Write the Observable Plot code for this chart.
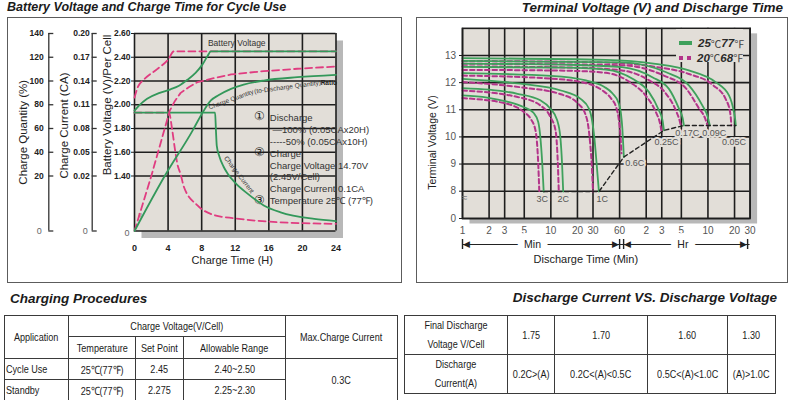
<!DOCTYPE html>
<html>
<head>
<meta charset="utf-8">
<script src="https://cdn.jsdelivr.net/npm/d3@7"></script>
<script src="https://cdn.jsdelivr.net/npm/@observablehq/plot@0.6"></script>
<style>
  html, body { margin: 0; padding: 0; background: #fff; }
  #sheet { position: relative; width: 788px; height: 400px; overflow: hidden; background: #fff;
           font-family: "Liberation Sans", Arial, sans-serif; color: #222; }
  .heading { position: absolute; margin: 0; font-weight: bold; font-style: italic; white-space: nowrap;
             color: #1b1b1b; line-height: 1; }
  .panel { position: absolute; box-sizing: border-box; border: 1.5px solid #5c5c5c; }
  .legend { position: absolute; left: 676px; top: 29px; width: 67px; height: 33px; background: #e2ded8; z-index: 5; }
  .legend .row { position: absolute; left: 0; height: 14px; display: flex; align-items: center;
                 white-space: nowrap; font-size: 11.5px; color: #2a2a2a; }
  .legend .num { font-weight: bold; font-style: italic; }
  .legend .unit { font-family: "Noto Sans CJK SC", serif; font-size: 10.5px; color: #444; }
  table.spec { position: absolute; border-collapse: collapse; table-layout: fixed;
               font-family: "Liberation Sans", Arial, sans-serif; font-size: 11.5px; color: #1a1a1a; }
  table.spec td { border: 1px solid #3a3a3a; text-align: center; padding: 0; white-space: nowrap; overflow: visible; }
  table.spec .n { display: inline-block; transform: scaleX(0.79); transform-origin: 50% 50%; }
  table.spec td.lead { text-align: left; padding-left: 1px; }
  table.spec td.lead .n { transform-origin: 0 50%; }
  table.spec .two { line-height: 19px; }
</style>
</head>
<body>
<div id="sheet">
  <div class="heading" style="left:7px; top:1px; font-size:12.5px;">Battery Voltage and Charge Time for Cycle Use</div>
  <div class="heading" style="right:5px; top:1px; font-size:13.5px;">Terminal Voltage (V) and Discharge Time</div>
  <div class="panel" style="left:7px; top:17px; width:395px; height:266px;"></div>
  <div class="panel" style="left:416px; top:17px; width:372px; height:266px;"></div>
  <div class="heading" style="left:10px; top:292px; font-size:13.5px;">Charging Procedures</div>
  <div class="heading" style="right:11px; top:291px; font-size:13.5px;">Discharge Current VS. Discharge Voltage</div>
</div>
<script>
// ---------------- Charging characteristics ----------------
const hourTicks = [0, 4, 8, 12, 16, 20, 24];
const voltTicks = [0, 1.4, 1.6, 1.8, 2.0, 2.2, 2.4, 2.6];
const voltTickLabels = ["0", "1.40", "1.60", "1.80", "2.00", "2.20", "2.40", "2.60"];
const currentTicks = [0, 0.02, 0.05, 0.08, 0.11, 0.14, 0.17, 0.2];
const currentTickLabels = ["0", "0.02", "0.05", "0.08", "0.11", "0.14", "0.17", "0.20"];
const quantityTicks = [0, 20, 40, 60, 80, 100, 120, 140];
const quantityTickLabels = ["0", "20", "40", "60", "80", "100", "120", "140"];

// battery voltage per cell while charging, [hours, V]
const voltageAfterFull = [[0, 1.95], [0.5, 1.99], [1.5, 2.05], [3, 2.1], [4.3, 2.13], [5.3, 2.16], [6.3, 2.21],
  [7.3, 2.27], [8.1, 2.34], [8.7, 2.41], [9.1, 2.45], [24, 2.45]];
const voltageAfterHalf = [[0, 2.06], [0.4, 2.15], [1.1, 2.21], [2.7, 2.3], [4.0, 2.38], [4.7, 2.45], [24, 2.45]];
// charge current, [hours, CA]
const currentAfterFull = [[0, 0.1], [9.6, 0.1], [9.7, 0.0775], [9.8, 0.058], [10.1, 0.045], [10.6, 0.032],
  [11.1, 0.0228], [12, 0.0175], [13.5, 0.0135], [15.4, 0.0093], [17.4, 0.0068], [21.4, 0.0044], [24, 0.0036]];
const currentAfterHalf = [[0, 0.1], [4.1, 0.1], [4.5, 0.0775], [4.8, 0.055], [5.1, 0.0354], [5.5, 0.022],
  [5.9, 0.0159], [7.5, 0.0093], [9.5, 0.0058], [12, 0.0046], [16, 0.0034], [24, 0.0026]];
// charge quantity relative to the discharged quantity, [hours, %]
const quantityAfterFull = [[0, 0], [3.6, 20], [6.9, 58], [8, 72], [9.1, 83.6], [10, 88], [11.5, 93.4], [13, 97],
  [15.4, 100.4], [19.4, 103.2], [24, 105.2]];
const quantityAfterHalf = [[0, 0], [2.0, 20], [4.2, 75], [4.8, 83], [5.5, 90], [6.5, 95], [7.5, 99], [9.5, 102.5],
  [11.5, 105.5], [15.4, 108.3], [19.4, 110.3], [24, 112.2]];

const noteLines = ["Discharge", " \u2014100% (0.05CAx20H)", "-----50% (0.05CAx10H)", "Charge",
  "Charge Voltage 14.70V", "(2.45V/Cell)", "Charge Current 0.1CA", "Temperature 25\u2103 (77\u2109)"];
const noteMarkers = ["\u2460", "", "", "\u2461", "", "", "", "\u2462"];

// ---------------- Discharge characteristics ----------------
const timeTicks = [1, 2, 3, 5, 10, 20, 30, 60, 120, 180, 300, 600, 1200, 1800];
const timeTickLabels = ["1", "2", "3", "5", "10", "20", "30", "60", "2", "3", "5", "10", "20", "30"];
const terminalTicks = [0, 8, 9, 10, 11, 12, 13];
const terminalTickLabels = ["0", "8", "9", "10", "11", "12", "13"];
const rates = ["3C", "2C", "1C", "0.6C", "0.25C", "0.17C", "0.09C", "0.05C"];
const timeSpans = [{unit: "Min", from: 1, to: 60}, {unit: "Hr", from: 60, to: 1800}];
const temperatures = [{c: "25", f: "77"}, {c: "20", f: "68"}];

// terminal voltage at 25 °C, [minutes, V]
const d25_3C = [[1, 11.53], [1.9, 11.45], [3.2, 11.3], [4.9, 11.1], [6.4, 10.88], [7.2, 10.55], [7.6, 10.0], [8.0, 9.0], [8.3, 7.88]];
const d25_2C = [[1, 11.8], [2, 11.74], [4.2, 11.59], [7.6, 11.35], [9.9, 11.04], [11.8, 10.61], [12.8, 10.0], [13.4, 9.0], [13.8, 7.88]];
const d25_1C = [[1, 12.14], [4.5, 11.96], [13, 11.71], [21.7, 11.4], [27, 11.04], [29.5, 10.55], [31, 10.0], [33, 9.0], [35, 7.88]];
const d25_06C = [[1, 12.35], [10, 12.25], [25, 12.08], [40, 11.85], [50, 11.6], [58, 11.28], [62, 10.9], [64.5, 10.3], [66, 9.7], [67, 9.26]];
const d25_025C = [[1, 12.58], [15, 12.55], [42, 12.48], [84, 12.14], [129, 11.65], [166, 11.0], [184, 10.6], [190.6, 10.24]];
const d25_017C = [[1, 12.7], [20, 12.65], [64, 12.57], [141, 12.2], [217, 11.77], [282, 11.04], [310, 10.7], [321, 10.42]];
const d25_009C = [[1, 12.8], [64, 12.75], [199, 12.39], [365, 11.9], [518, 11.16], [595, 10.75], [630, 10.42]];
const d25_005C = [[1, 12.9], [41.6, 12.84], [153, 12.69], [365, 12.45], [733, 12.02], [1038, 11.53], [1180, 10.92], [1225, 10.6], [1240, 10.42]];
// terminal voltage at 20 °C, [minutes, V]
const d20_3C = [[1, 11.43], [3.2, 11.22], [4.95, 10.92], [5.9, 10.67], [6.7, 10.24], [7.2, 9.0], [7.4, 7.88]];
const d20_2C = [[1, 11.71], [4.2, 11.47], [7.6, 11.16], [9.9, 10.73], [11.3, 10.24], [12, 9.0], [12.3, 7.88]];
const d20_1C = [[1, 12.02], [4.5, 11.83], [13, 11.57], [20, 11.25], [24.5, 10.85], [26.5, 10.4], [27.8, 9.8], [29, 9.0], [30, 7.88]];
const d20_06C = [[1, 12.26], [10, 12.15], [25, 11.98], [38, 11.72], [48, 11.42], [55, 11.08], [59, 10.6], [61.5, 10.0], [63, 9.4]];
const d20_025C = [[1, 12.47], [15, 12.44], [42, 12.36], [80, 12.0], [120, 11.5], [155, 10.9], [172, 10.5], [178, 10.24]];
const d20_017C = [[1, 12.6], [20, 12.55], [64, 12.45], [130, 12.08], [195, 11.65], [262, 10.95], [287, 10.6], [296, 10.42]];
const d20_009C = [[1, 12.7], [64, 12.64], [190, 12.26], [340, 11.78], [475, 11.05], [555, 10.7], [593, 10.42]];
const d20_005C = [[1, 12.8], [41.6, 12.74], [153, 12.58], [365, 12.32], [690, 11.9], [950, 11.4], [1070, 10.9], [1095, 10.6], [1104, 10.42]];

// ---------------- Tables ----------------
const chargingHead = ["Application", "Charge Voltage(V/Cell)", "Max.Charge Current"];
const chargingSubHead = ["Temperature", "Set Point", "Allowable Range"];
const chargingRows = [["Cycle Use", "25\u2103(77\u2109)", "2.45", "2.40~2.50"],
                      ["Standby", "25\u2103(77\u2109)", "2.275", "2.25~2.30"]];
const maxChargeCurrent = "0.3C";
const finalVoltageHead = ["Final Discharge", "Voltage V/Cell"];
const finalVoltages = ["1.75", "1.70", "1.60", "1.30"];
const dischargeCurrentHead = ["Discharge", "Current(A)"];
const dischargeCurrentRanges = ["0.2C>(A)", "0.2C<(A)<0.5C", "0.5C<(A)<1.0C", "(A)>1.0C"];

// ---------------- Drawing ----------------
const BG = "#e2ded8", SHADOW = "#b8b8b8", GRID = "#1e1e1e", AXIS = "#333";
const GREEN_L = "#33985a", PINK_L = "#e03c80", GREEN_R = "#3fa15c", PINK_R = "#b3348a";
const FONT = '"Liberation Sans", Arial, sans-serif';
const sheet = document.getElementById("sheet");
const px = (d) => d[0], py = (d) => d[1];
const labelOf = (values, labels) => { const m = new Map(values.map((v, i) => [v, labels[i]])); return (d) => m.get(d); };

function layer(options) {
  const svg = Plot.plot({
    width: 788, height: 280, ...options,
    style: {position: "absolute", left: "0px", top: "0px", background: "transparent", overflow: "visible",
            fontFamily: FONT, fontSize: "10px", color: "#222"}
  });
  sheet.appendChild(svg);
}

// A value axis that is linear above `b` and compressed/stretched between 0 and `b`
// (the broken bottom segment of the datasheet axes). Pixel geometry: zero, break, top.
function brokenAxis(b, top, px0, pxBreak, pxTop) {
  const perUnit = (pxBreak - pxTop) / (top - b);
  const k = (px0 - pxBreak) / (b * perUnit);
  const transform = (v) => (v >= b ? v : b - (b - v) * k);
  return {domain: [transform(0), top], transform, axis: null};
}

// left panel geometry (pixels)
const L = {left: 134, right: 335.5, top: 33, brk: 175.5, bottom: 230.5};
const leftFrame = {marginLeft: L.left, marginRight: 788 - L.right, marginTop: L.top, marginBottom: 280 - L.bottom};
const yVolt = brokenAxis(1.4, 2.6, L.bottom, L.brk, L.top);
const yCurrent = brokenAxis(0.02, 0.2, L.bottom, L.brk, L.top);
const yQuantity = brokenAxis(20, 140, L.bottom, L.brk, L.top);

// charge: frame, grid, battery voltage and notes
layer({
  ...leftFrame,
  x: {domain: [0, 24], axis: null},
  y: yVolt,
  marks: [
    Plot.frame({fill: SHADOW, dx: 7, dy: 7}),
    Plot.frame({fill: BG}),
    Plot.ruleX(hourTicks, {stroke: GRID, strokeWidth: 1.6}),
    Plot.ruleY(voltTicks, {stroke: GRID, strokeWidth: 1.6}),
    Plot.line(voltageAfterHalf, {x: px, y: py, stroke: PINK_L, strokeWidth: 1.8, strokeDasharray: "7,4", curve: "monotone-x"}),
    Plot.line(voltageAfterFull, {x: px, y: py, stroke: GREEN_L, strokeWidth: 1.8, curve: "monotone-x"}),
    Plot.text(["Battery Voltage"], {x: 12.18, y: 2.516, text: (d) => d, fontSize: 8.5, fill: "#333"}),
    Plot.text(["Charge Quantity"], {x: 11.5, y: 2.044, text: (d) => d, rotate: -20, fontSize: 6.5, fill: "#333"}),
    Plot.text(["(to-Discharge Quantity)"], {x: 18.23, y: 2.15, text: (d) => d, rotate: -7.7, fontSize: 6.5, fill: "#333"}),
    Plot.text(["Ratio"], {x: 23.14, y: 2.188, text: (d) => d, fontSize: 6.5, fontWeight: "bold", fill: "#222"}),
    Plot.text(["Charge Current"], {x: 12.45, y: 1.411, text: (d) => d, rotate: 52.7, fontSize: 6.5, fill: "#333"}),
    Plot.text([noteLines.join("\n")], {x: 16.12, y: 1.935, text: (d) => d, textAnchor: "start", lineAnchor: "top",
      lineHeight: 1.253, fontSize: 9.5, fill: "#333"}),
    Plot.text([noteMarkers.join("\n")], {x: 14.87, y: 1.94, text: (d) => d, lineAnchor: "top",
      lineHeight: 1.035, fontSize: 11.5, fill: "#222"}),
    Plot.text(["\u2248"], {frameAnchor: "bottom-left", textAnchor: "middle", dx: 2.5, dy: -15.5, rotate: 90, text: (d) => d, fontSize: 9, fill: "#777"}),
    Plot.axisX(hourTicks, {anchor: "bottom", tickSize: 0, tickPadding: 13.5, fontSize: 9, fontWeight: "bold", fill: "#222", label: null}),
    Plot.axisY(voltTicks.slice(1), {anchor: "left", tickSize: 3, tickPadding: 1, stroke: GRID, fontSize: 8.5,
      fontWeight: "bold", fill: "#222", tickFormat: labelOf(voltTicks, voltTickLabels), label: null}),
    Plot.axisY([0], {anchor: "left", tickSize: 0, tickPadding: 5, dy: 2, fontSize: 9, fill: "#666",
      tickFormat: labelOf(voltTicks, voltTickLabels), label: null}),
    Plot.text(["Battery Voltage (V)/Per Cell"], {frameAnchor: "left", textAnchor: "middle", text: (d) => d, rotate: -90,
      dx: -27.5, dy: -27.2, fontSize: 11.5, fill: "#222"}),
    Plot.text(["Charge Time (H)"], {frameAnchor: "bottom", text: (d) => d, dx: -3, dy: 32.5, fontSize: 11, fill: "#222"})
  ]
});

// charge current curves
layer({
  ...leftFrame,
  x: {domain: [0, 24], axis: null},
  y: yCurrent,
  marks: [
    Plot.line(currentAfterHalf, {x: px, y: py, stroke: PINK_L, strokeWidth: 1.8, strokeDasharray: "7,4", curve: "monotone-x"}),
    Plot.line(currentAfterFull, {x: px, y: py, stroke: GREEN_L, strokeWidth: 1.8, curve: "monotone-x"})
  ]
});

// charge quantity curves
layer({
  ...leftFrame,
  x: {domain: [0, 24], axis: null},
  y: yQuantity,
  marks: [
    Plot.line(quantityAfterHalf, {x: px, y: py, stroke: PINK_L, strokeWidth: 1.8, strokeDasharray: "7,4"}),
    Plot.line(quantityAfterFull, {x: px, y: py, stroke: GREEN_L, strokeWidth: 1.8, curve: "monotone-x"})
  ]
});

// secondary axes: charge current and charge quantity
function sideAxis(left, yScale, ticks, labels, title, padding, titleDx, titleDy) {
  const fmt = labelOf(ticks, labels);
  layer({
    marginLeft: left, marginRight: 788 - left - 5, marginTop: L.top, marginBottom: 280 - L.bottom,
    x: {domain: [0, 1], axis: null},
    y: yScale,
    marks: [
      Plot.ruleX([0], {stroke: AXIS, strokeWidth: 1.3}),
      Plot.tickY(ticks, {stroke: AXIS, strokeWidth: 1.3}),
      Plot.axisY(ticks.slice(1), {anchor: "left", tickSize: 0, tickPadding: padding, fontSize: 8.5, fontWeight: "bold",
        fill: "#222", tickFormat: fmt, label: null}),
      Plot.axisY([0], {anchor: "left", tickSize: 0, tickPadding: padding + 2, fontSize: 9, fill: "#666", tickFormat: fmt, label: null}),
      Plot.text([title], {frameAnchor: "left", textAnchor: "middle", text: (d) => d, rotate: -90, dx: titleDx, dy: titleDy,
        fontSize: 11.5, fill: "#222"})
    ]
  });
}
sideAxis(91.7, yCurrent, currentTicks, currentTickLabels, "Charge Current (CA)", 2.5, -27.7, -6.7);
sideAxis(48.3, yQuantity, quantityTicks, quantityTickLabels, "Charge Quantity (%)", 5, -25.8, 0);

// right panel: terminal voltage vs. discharge time
const R = {left: 462, right: 749.6, top: 27.85, brk: 190.7, bottom: 218};
const curves25 = [d25_3C, d25_2C, d25_1C, d25_06C, d25_025C, d25_017C, d25_009C, d25_005C];
const curves20 = [d20_3C, d20_2C, d20_1C, d20_06C, d20_025C, d20_017C, d20_009C, d20_005C];
const cutoff = curves25.map((c) => c[c.length - 1]);
const rateNudge = [[-1.5, 7.6], [0, 7.6], [3.4, 7.6], [10.8, 6.5], [2.5, 11.8], [3.4, 7.7], [4.5, 7.7], [-1.7, 16.7]];
const RX = {type: "log", domain: [1, 1800], axis: null};
const rightFrame = {marginLeft: R.left, marginRight: 788 - R.right};

layer({
  ...rightFrame, marginTop: R.top, marginBottom: 280 - R.bottom,
  x: RX,
  y: brokenAxis(8, 14, R.bottom, R.brk, R.top),
  marks: [
    Plot.frame({fill: SHADOW, dx: 7, dy: 5}),
    Plot.frame({fill: BG}),
    Plot.ruleX(timeTicks, {stroke: GRID, strokeWidth: 1.6}),
    Plot.ruleY(terminalTicks, {stroke: GRID, strokeWidth: 1.6}),
    ...curves20.map((c) => Plot.line(c, {x: px, y: py, stroke: PINK_R, strokeWidth: 2, strokeDasharray: "4.5,3", curve: "monotone-x"})),
    ...curves25.map((c) => Plot.line(c, {x: px, y: py, stroke: GREEN_R, strokeWidth: 1.8, curve: "monotone-x"})),
    Plot.line(cutoff, {x: px, y: py, stroke: "#222", strokeWidth: 1.4, strokeDasharray: "4,3"}),
    ...rates.map((r, i) => Plot.text([cutoff[i]], {x: px, y: py, text: () => r, dx: rateNudge[i][0], dy: rateNudge[i][1],
      fontSize: 9, fill: "#555", stroke: BG, strokeWidth: 4, paintOrder: "stroke"})),
    Plot.frame({stroke: GRID, strokeWidth: 1.6}),
    Plot.text(["\u2248"], {frameAnchor: "bottom-left", textAnchor: "middle", dx: 2, dy: -18, text: (d) => d, fontSize: 10, fill: "#777"}),
    Plot.text(timeTicks, {x: (d) => d, frameAnchor: "bottom", dy: 15.5, text: labelOf(timeTicks, timeTickLabels),
      fontSize: 10, fill: "#555"}),
    Plot.axisY(terminalTicks, {anchor: "left", tickSize: 3, tickPadding: 3.5, stroke: GRID, fontSize: 10, fill: "#555",
      tickFormat: labelOf(terminalTicks, terminalTickLabels), label: null}),
    Plot.text(["Terminal Voltage (V)"], {frameAnchor: "left", textAnchor: "middle", text: (d) => d, rotate: -90,
      dx: -30, dy: 19.1, fontSize: 10.5, fill: "#222"}),
    Plot.text(["Discharge Time (Min)"], {frameAnchor: "bottom", text: (d) => d, dx: -20.5, dy: 44, fontSize: 11, fill: "#222"})
  ]
});

// Min / Hr ranges under the time axis
const spanNudge = {Min: {from: 0, to: 0, label: -8.5}, Hr: {from: 4, to: -2.5, label: -2}};
layer({
  ...rightFrame, marginTop: 239, marginBottom: 31,
  x: RX,
  y: {domain: [0, 1], axis: null},
  marks: timeSpans.flatMap((s) => {
    const n = spanNudge[s.unit];
    return [
      Plot.ruleY([s], {x1: (d) => d.from, x2: (d) => d.to, y: 0.5, stroke: "#222", strokeWidth: 1.1}),
      Plot.tickX([s], {x: (d) => d.from, dx: n.from, stroke: "#222", strokeWidth: 1.4}),
      Plot.tickX([s], {x: (d) => d.to, dx: n.to, stroke: "#222", strokeWidth: 1.4}),
      Plot.text([s], {x: (d) => d.from, y: 0.5, dx: n.from + 0.5, text: () => "\u25C0", textAnchor: "start", fontSize: 8.5, fill: "#222"}),
      Plot.text([s], {x: (d) => d.to, y: 0.5, dx: n.to - 0.5, text: () => "\u25B6", textAnchor: "end", fontSize: 8.5, fill: "#222"}),
      Plot.text([s], {x: (d) => Math.sqrt(d.from * d.to), y: 0.5, dx: n.label, text: (d) => d.unit, fontSize: 10.5,
        fill: "#222", stroke: "#fff", strokeWidth: 14, paintOrder: "stroke"})
    ];
  })
});

// legend inside the right plot
const legend = document.createElement("div");
legend.className = "legend";
temperatures.forEach((t, i) => {
  const row = document.createElement("div");
  row.className = "row";
  row.style.top = (7 + i * 14.7) + "px";
  const swatch = i === 0
    ? `<span style="display:inline-block;width:13px;height:4px;background:${GREEN_R};margin-left:3px;margin-right:6px"></span>`
    : `<span style="display:inline-block;width:4px;height:4px;background:${PINK_R};margin-left:3px;margin-right:4px"></span>` +
      `<span style="display:inline-block;width:4px;height:4px;background:${PINK_R};margin-right:6px"></span>`;
  row.innerHTML = swatch + `<span class="num">${t.c}</span><span class="unit">\u2103</span>` +
    `<span class="num">${t.f}</span><span class="unit">\u2109</span>`;
  legend.appendChild(row);
});
sheet.appendChild(legend);

// tables
const esc = (s) => s.replace(/</g, "&lt;").replace(/>/g, "&gt;");
const cell = (s, attrs = "") => `<td${attrs}><span class="n">${esc(s)}</span></td>`;
const t1 = document.createElement("table");
t1.className = "spec";
Object.assign(t1.style, {left: "4px", top: "315px", width: "393px"});
t1.innerHTML =
  `<colgroup><col style="width:64px"><col style="width:67px"><col style="width:48px"><col style="width:102px"><col style="width:112px"></colgroup>` +
  `<tr style="height:21px">${cell(chargingHead[0], ' rowspan="2"')}${cell(chargingHead[1], ' colspan="3"')}${cell(chargingHead[2], ' rowspan="2"')}</tr>` +
  `<tr style="height:22px">${chargingSubHead.map((s) => cell(s)).join("")}</tr>` +
  chargingRows.map((r, i) => `<tr style="height:21px">${cell(r[0], ' class="lead"')}` +
    r.slice(1).map((v) => cell(v)).join("") +
    (i === 0 ? cell(maxChargeCurrent, ' rowspan="2"') : "") + `</tr>`).join("");
sheet.appendChild(t1);

const twoLine = (lines) => `<td class="two"><span class="n">${lines.map(esc).join("<br>")}</span></td>`;
const t2 = document.createElement("table");
t2.className = "spec";
Object.assign(t2.style, {left: "404px", top: "315px", width: "371px"});
t2.innerHTML =
  `<colgroup><col style="width:103px"><col style="width:47px"><col style="width:93px"><col style="width:80px"><col style="width:48px"></colgroup>` +
  `<tr style="height:33px">${twoLine(finalVoltageHead)}${finalVoltages.map((v) => cell(v)).join("")}</tr>` +
  `<tr style="height:37px">${twoLine(dischargeCurrentHead)}${dischargeCurrentRanges.map((v) => cell(v)).join("")}</tr>`;
sheet.appendChild(t2);
</script>
</body>
</html>
